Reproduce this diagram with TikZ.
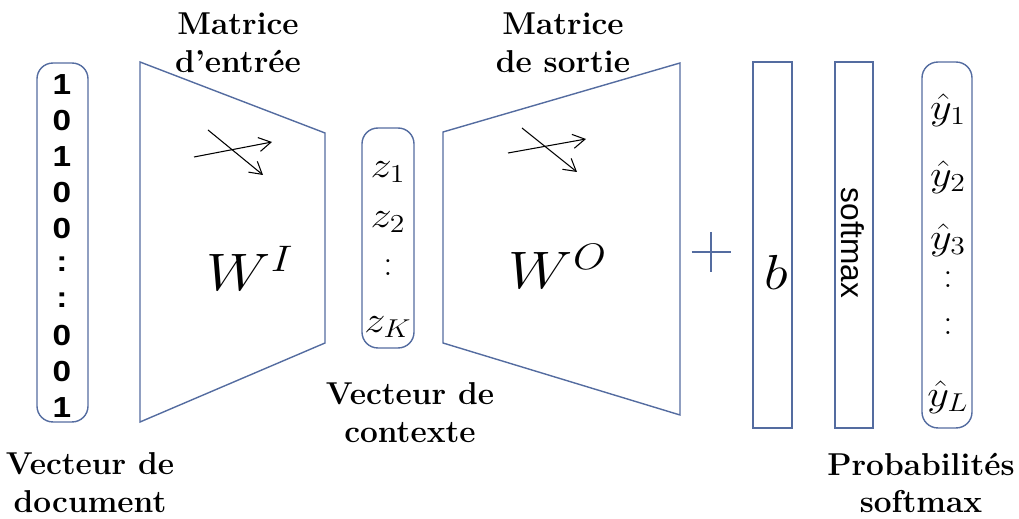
\RequirePackage{fix-cm}
\documentclass[tikz,border=0pt]{standalone}
\usepackage{amsmath}
\usepackage{fontspec}
\newfontfamily\arialfont{Liberation Sans}
\newfontfamily\arialwide[FakeStretch=1.15]{Liberation Sans}
\usepackage{xcolor}
\usepackage{tikz}
\usetikzlibrary{arrows.meta,positioning,calc}

\definecolor{boxblue}{RGB}{84,108,160}
\newcommand{\widen}[1]{\scalebox{1.15}[1]{#1}}
\tikzset{
  vecbox/.style={draw=boxblue,line width=0.8pt,rounded corners=9pt},
  barbox/.style={draw=boxblue,line width=0.8pt,minimum height=7.32cm},
  layer/.style={draw=boxblue,line width=0.8pt},
  caption/.style={font=\fontsize{18}{21.5}\selectfont\bfseries,align=center},
  entry/.style={font=\fontsize{21}{25}\selectfont},
  digit/.style={font=\arialwide\bfseries\fontsize{16.5}{18}\selectfont},
  wire/.style={line width=0.6pt,-{Straight Barb[length=2.4mm,width=2.8mm]}},
}

\begin{document}
\begin{tikzpicture}[x=0.02cm,y=-0.02cm]
\useasboundingbox (0,0) rectangle (1019,519);
% Document vector (one-hot)
\node[vecbox,minimum width=1.02cm,minimum height=7.18cm] (docvec) at (62.5,242.5) {};
\node[digit] (d1) at (62,85) {1};
\node[digit] (d2) at (62,120.8) {0};
\node[digit] (d3) at (62,156.6) {1};
\node[digit] (d4) at (62,192.4) {0};
\node[digit] (d5) at (62,228.2) {0};
\node[digit] (d6) at (62,264) {:};
\node[digit] (d7) at (62,299.8) {:};
\node[digit] (d8) at (62,335.6) {0};
\node[digit] (d9) at (62,371.4) {0};
\node[digit] (d10) at (62,407.2) {1};
\node[caption] (doclabel) at (90,483) {Vecteur de\\document};
% Input matrix
\coordinate (inTL) at (140,62);
\coordinate (inTR) at (325,133);
\coordinate (inBR) at (325,343);
\coordinate (inBL) at (140,422);
\draw[layer] (inTL) -- (inTR) -- (inBR) -- (inBL) -- cycle;
\coordinate (inA1) at (194,157);
\coordinate (inA2) at (272,142);
\coordinate (inB1) at (208,130);
\coordinate (inB2) at (263,175);
\draw[wire] (inA1) -- (inA2);
\draw[wire] (inB1) -- (inB2);
\node[font=\fontsize{30}{36}\selectfont] (wi) at (250,268) {\widen{$W^I$}};
\node[caption] (inlabel) at (238,43) {Matrice\\d’entrée};
% Context vector
\node[vecbox,minimum width=1.04cm,minimum height=4.4cm] (ctxvec) at (388,238) {};
\node[entry] (z1) at (388,172) {\widen{$z_1$}};
\node[entry] (z2) at (388,222) {\widen{$z_2$}};
\node[entry] (zdots) at (388,268) {$:$};
\node[entry] (zK) at (388,327) {\widen{$z_K$}};
\node[caption] (ctxlabel) at (410,413) {Vecteur de\\contexte};
% Output matrix
\coordinate (outTL) at (443,132);
\coordinate (outTR) at (680,63);
\coordinate (outBR) at (680,415);
\coordinate (outBL) at (443,343);
\draw[layer] (outTL) -- (outTR) -- (outBR) -- (outBL) -- cycle;
\coordinate (outA1) at (508,153);
\coordinate (outA2) at (586,139);
\coordinate (outB1) at (522,128);
\coordinate (outB2) at (577,172);
\draw[wire] (outA1) -- (outA2);
\draw[wire] (outB1) -- (outB2);
\node[font=\fontsize{30}{36}\selectfont] (wo) at (558,266) {\widen{$W^O$}};
\node[caption] (outlabel) at (563,43) {Matrice\\de sortie};
% Bias, softmax and probabilities
\coordinate (plus) at (711,252);
\draw[layer] ($(plus)+(-19.5,0)$) -- ($(plus)+(19.5,0)$);
\draw[layer] ($(plus)+(0,-20)$) -- ($(plus)+(0,20)$);
\node[barbox,minimum width=0.78cm] (bias) at (772.5,245) {};
\node[font=\fontsize{28}{32}\selectfont] (b) at (776,272) {\widen{$b$}};
\node[barbox,minimum width=0.76cm] (soft) at (854,245) {};
\node[rotate=-90,font=\arialfont\fontsize{18}{22}\selectfont] (softtext) at (853,243) {softmax};
\node[vecbox,minimum width=1.0cm,minimum height=7.32cm] (probvec) at (947,245) {};
\node[entry] (y1) at (948,110) {\widen{$\hat{y}_1$}};
\node[entry] (y2) at (948,177) {\widen{$\hat{y}_2$}};
\node[entry] (y3) at (948,240) {\widen{$\hat{y}_3$}};
\node[entry] (ydots1) at (948,280) {$:$};
\node[entry] (ydots2) at (948,327) {$:$};
\node[entry] (yL) at (948,397) {\widen{$\hat{y}_L$}};
\node[caption] (problabel) at (921,483) {Probabilités\\softmax};
\end{tikzpicture}
\end{document}
